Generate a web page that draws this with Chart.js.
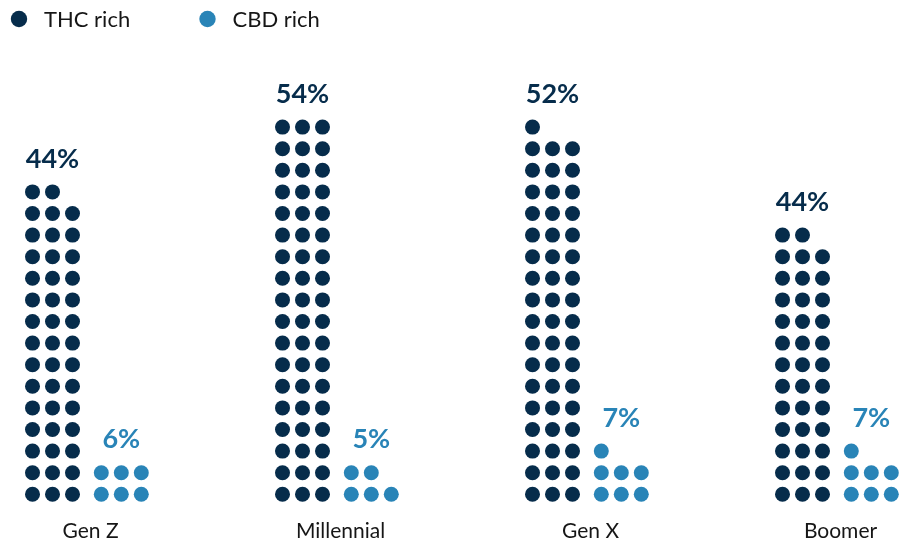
<!DOCTYPE html>
<html>
<head>
<meta charset="utf-8">
<script src="https://cdn.jsdelivr.net/npm/chart.js@4"></script>
<style>
  html, body { margin: 0; padding: 0; background: #ffffff; }
  #wrap { position: relative; width: 899px; height: 546px; }
</style>
</head>
<body>
<div id="wrap"><canvas id="c"></canvas></div>
<script>
// ---- data ----
const categories = ['Gen Z', 'Millennial', 'Gen X', 'Boomer'];
const seriesNames = ['THC rich', 'CBD rich'];
const thcPercent = [44, 54, 52, 44];   // printed labels
const cbdPercent = [6, 5, 7, 7];       // printed labels
const thcDots = [44, 54, 52, 38];      // dots drawn in the picture
const cbdDots = [6, 5, 7, 7];          // dots drawn in the picture

// ---- layout / style ----
const THC_COLOR = '#062c4b';
const CBD_COLOR = '#2984b7';
const TEXT_COLOR = '#161616';
const FONT = 'Lato, "Open Sans", sans-serif';
const COLS = 3;
const GROUP = 12.5;      // x-units between categories
const CBD_OFFSET = 3.44; // x-units from THC block to CBD block
const LABEL_OFFSET = 2.9;

function buildPoints(counts, offset) {
  const pts = [];
  counts.forEach((n, i) => {
    for (let k = 0; k < n; k++) {
      pts.push({ x: i * GROUP + offset + (k % COLS), y: Math.floor(k / COLS) });
    }
  });
  return pts;
}

const labelsPlugin = {
  id: 'dotLabels',
  afterDraw(chart) {
    const { ctx, scales: { x, y } } = chart;
    ctx.save();
    // legend
    const legendItems = [
      { text: seriesNames[0], color: THC_COLOR, cx: 19 },
      { text: seriesNames[1], color: CBD_COLOR, cx: 207.5 }
    ];
    ctx.textBaseline = 'middle';
    ctx.textAlign = 'left';
    ctx.font = '22px ' + FONT;
    legendItems.forEach(it => {
      ctx.fillStyle = it.color;
      ctx.beginPath();
      ctx.arc(it.cx, 19, 8.2, 0, Math.PI * 2);
      ctx.fill();
      ctx.fillStyle = TEXT_COLOR;
      ctx.fillText(it.text, it.cx + 25, 19.5);
    });

    ctx.textAlign = 'center';
    categories.forEach((cat, i) => {
      const base = i * GROUP;
      ctx.font = 'bold 27px ' + FONT;
      const thcTop = Math.ceil(thcDots[i] / COLS) - 1;
      ctx.fillStyle = THC_COLOR;
      ctx.fillText(thcPercent[i] + '%', x.getPixelForValue(base + 1), y.getPixelForValue(thcTop) - 33);
      const cbdTop = Math.ceil(cbdDots[i] / COLS) - 1;
      ctx.fillStyle = CBD_COLOR;
      ctx.fillText(cbdPercent[i] + '%', x.getPixelForValue(base + CBD_OFFSET + 1), y.getPixelForValue(cbdTop) - 33);
      ctx.font = '21px ' + FONT;
      ctx.fillStyle = TEXT_COLOR;
      ctx.fillText(cat, x.getPixelForValue(base + LABEL_OFFSET), y.getPixelForValue(0) + 37);
    });
    ctx.restore();
  }
};

new Chart(document.getElementById('c'), {
  type: 'scatter',
  data: {
    datasets: [
      {
        label: seriesNames[0],
        data: buildPoints(thcDots, 0),
        backgroundColor: THC_COLOR,
        borderWidth: 0,
        pointRadius: 7.5,
        pointHoverRadius: 7.5
      },
      {
        label: seriesNames[1],
        data: buildPoints(cbdDots, CBD_OFFSET),
        backgroundColor: CBD_COLOR,
        borderWidth: 0,
        pointRadius: 7.5,
        pointHoverRadius: 7.5
      }
    ]
  },
  options: {
    responsive: true,
    maintainAspectRatio: false,
    animation: false,
    devicePixelRatio: 1,
    clip: false,
    layout: { padding: 0, autoPadding: false },
    events: [],
    plugins: {
      legend: { display: false },
      tooltip: { enabled: false }
    },
    scales: {
      x: { type: 'linear', min: -1.625, max: 43.325, display: false },
      y: { type: 'linear', min: -2.394, max: 22.884, display: false }
    }
  },
  plugins: [labelsPlugin]
});
</script>
</body>
</html>
